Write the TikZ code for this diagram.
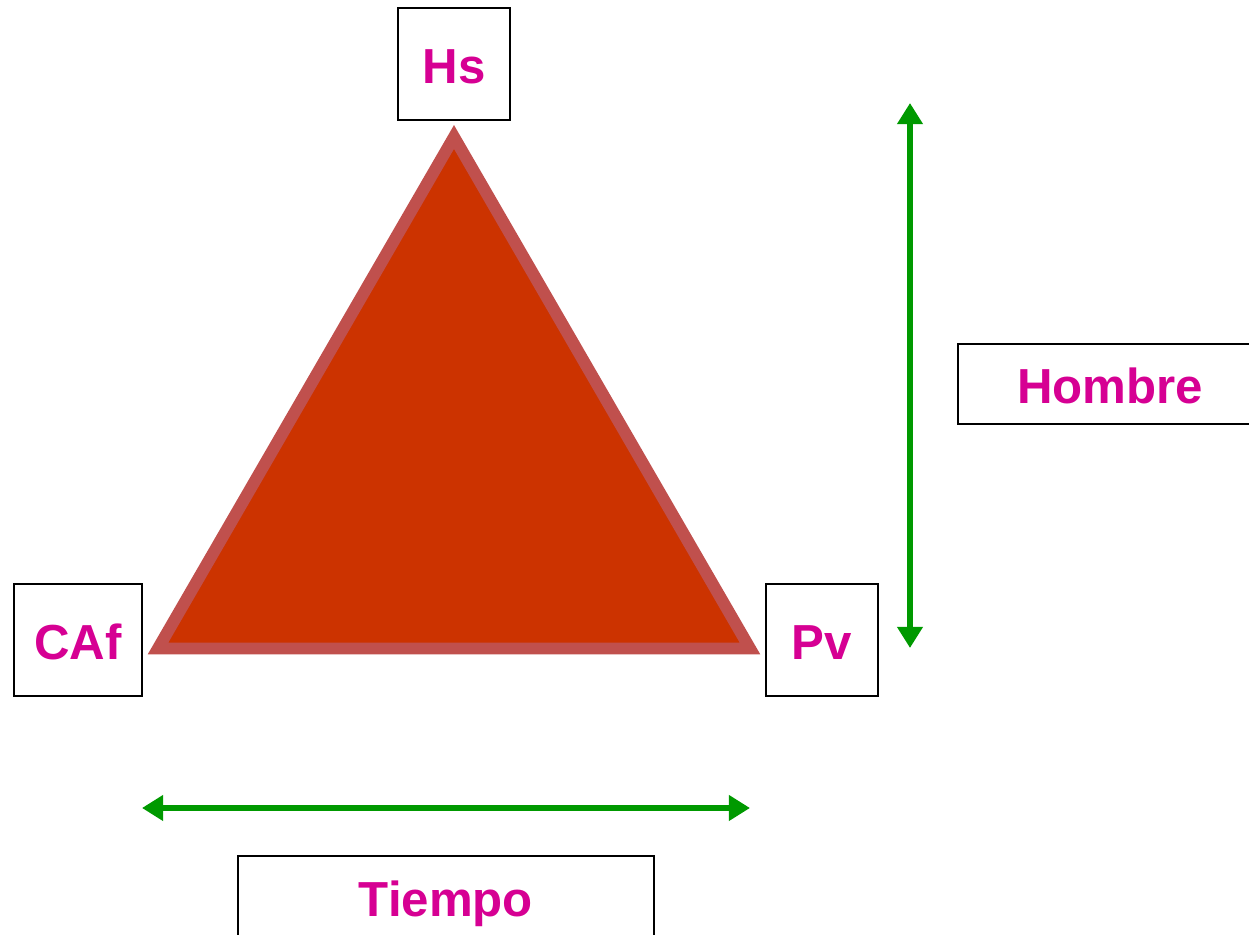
\documentclass[tikz,border=0pt]{standalone}
\usepackage{fontspec}
\setmainfont{Liberation Sans}
\usepackage{xcolor}
\definecolor{tmagenta}{RGB}{214,0,147}
\definecolor{tgreen}{RGB}{0,153,0}
\definecolor{tred}{RGB}{204,51,0}
\definecolor{tborder}{RGB}{192,80,77}
\usetikzlibrary{arrows.meta}

\tikzset{
  labelbox/.style={draw=black, line width=0.6pt, fill=white, inner sep=0pt,
                   text height=11pt, text depth=0pt,
                   font=\fontsize{14}{16}\selectfont\bfseries, text=tmagenta},
  spanarrow/.style={tgreen, line width=1.8pt,
                    {Triangle[length=6pt,width=7pt]}-{Triangle[length=6pt,width=7pt]}}
}

\begin{document}
\begin{tikzpicture}
  \clip (0,0) rectangle (12.49,9.35);

  % Triangle
  \coordinate (apex) at (4.54,7.98);
  \coordinate (bleft) at (1.58,2.865);
  \coordinate (bright) at (7.50,2.865);
  \draw[fill=tred, draw=tborder, line width=3.4pt]
       (apex) -- (bleft) -- (bright) -- cycle;

  % Corner labels
  \node[labelbox, minimum width=1.12cm, minimum height=1.12cm] (hs) at (4.54,8.71) {Hs};
  \node[labelbox, minimum width=1.28cm, minimum height=1.12cm] (caf) at (0.78,2.95) {CAf};
  \node[labelbox, minimum width=1.12cm, minimum height=1.12cm] (pv) at (8.22,2.95) {Pv};

  % Axis labels
  \node[labelbox, minimum width=3.04cm, minimum height=0.80cm] (hombre) at (11.10,5.51) {Hombre};
  \node[labelbox, minimum width=4.16cm, minimum height=0.82cm] (tiempo) at (4.46,0.38) {Tiempo};

  % Arrows
  \coordinate (htop) at (9.10,8.32);
  \coordinate (hbot) at (9.10,2.87);
  \draw[spanarrow] (htop) -- (hbot);

  \coordinate (tleft) at (1.42,1.27);
  \coordinate (tright) at (7.50,1.27);
  \draw[spanarrow] (tleft) -- (tright);
\end{tikzpicture}
\end{document}
